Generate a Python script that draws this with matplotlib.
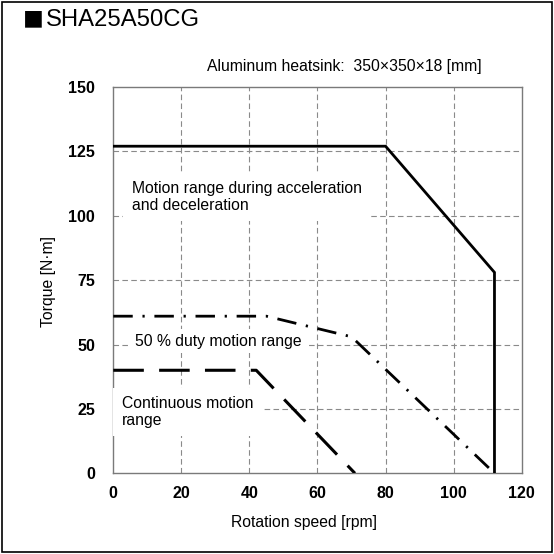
import matplotlib
matplotlib.use("Agg")
import matplotlib.pyplot as plt
from matplotlib.patches import Rectangle

plt.rcParams["font.family"] = ["Liberation Sans", "DejaVu Sans"]

TITLE = "SHA25A50CG"
NOTE = "Aluminum heatsink:  350\u00d7350\u00d718 [mm]"

# Curves: rotation speed [rpm] vs torque [N·m]
accel_speed = [0, 80, 112, 112]
accel_torque = [127, 127, 78, 0]
duty50_speed = [0, 45, 70, 112]
duty50_torque = [61, 61, 53, 0]
cont_speed = [0, 42, 71]
cont_torque = [40, 40, 0]

x_ticks = [0, 20, 40, 60, 80, 100, 120]
y_ticks = [0, 25, 50, 75, 100, 125, 150]

GRID = "#8a8a8a"
FS = 11.3

fig = plt.figure(figsize=(5.54, 5.54), dpi=100)
fig.patch.set_facecolor("white")
fig.add_artist(Rectangle((0.004, 0.004), 0.992, 0.992, transform=fig.transFigure,
                         fill=False, edgecolor="black", linewidth=1.2))

ax = fig.add_axes([0.2045, 0.1457, 0.7372, 0.6973])
ax.set_xlim(0, 120)
ax.set_ylim(0, 150)
ax.set_xticks(x_ticks)
ax.set_yticks(y_ticks)
ax.tick_params(length=0, labelsize=11.5)
ax.tick_params(axis="y", pad=13)
ax.tick_params(axis="x", pad=9)
for lbl in ax.get_xticklabels() + ax.get_yticklabels():
    lbl.set_fontweight("bold")
for spine in ax.spines.values():
    spine.set_color("#7a7a7a")
    spine.set_linewidth(1.0)

for x in x_ticks[1:-1]:
    ax.axvline(x, color=GRID, linewidth=0.8, linestyle=(0, (5, 3)), zorder=1)
for y in y_ticks[1:-1]:
    ax.axhline(y, color=GRID, linewidth=0.8, linestyle=(0, (5, 3)), zorder=1)

ax.plot(accel_speed, accel_torque, color="black", linewidth=2.0, zorder=5,
        solid_joinstyle="miter")
ax.plot(duty50_speed, duty50_torque, color="black", linewidth=2.0, zorder=5,
        linestyle=(0, (7, 3.5, 0.8, 3.5)))
ax.plot(cont_speed, cont_torque, color="black", linewidth=2.2, zorder=5,
        linestyle=(0, (10, 5)))

ax.text(5.4, 107.3, "Motion range during acceleration\nand deceleration", fontsize=FS,
        ha="left", va="center", linespacing=1.15,
        bbox=dict(facecolor="white", edgecolor="none", pad=6), zorder=3)
ax.text(6.4, 51.3, "50 % duty motion range", fontsize=FS, ha="left", va="center",
        bbox=dict(facecolor="white", edgecolor="none", pad=3), zorder=3)
ax.text(2.5, 23.8, "Continuous motion\nrange", fontsize=FS, ha="left", va="center",
        linespacing=1.15, bbox=dict(facecolor="white", edgecolor="none", pad=6), zorder=3)

ax.set_xlabel("Rotation speed [rpm]", fontsize=FS, va="center")
ax.xaxis.set_label_coords(0.467, -0.128)
ax.set_ylabel("Torque [N\u00b7m]", fontsize=FS, va="center")
ax.yaxis.set_label_coords(-0.158, 0.497)

fig.text(23 / 554, 1 - 20 / 554, "\u25a0", fontsize=15, ha="left", va="center",
         family=["Noto Sans CJK JP", "DejaVu Sans"])
fig.text(46 / 554, 1 - 20.5 / 554, TITLE, fontsize=17.2, ha="left", va="center")
fig.text(207 / 554, 1 - 66.7 / 554, NOTE, fontsize=FS, ha="left", va="center")

fig.savefig("out.png", dpi=100)
